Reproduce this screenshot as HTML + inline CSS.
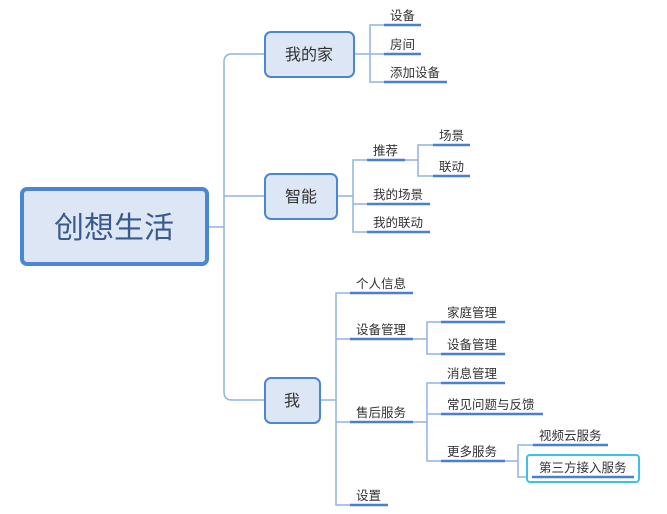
<!DOCTYPE html>
<html><head><meta charset="utf-8"><style>
html,body{margin:0;padding:0;background:#fff;width:667px;height:514px;overflow:hidden}
text{font-family:"Liberation Sans","Noto Sans CJK SC",sans-serif;fill:#333}
</style></head><body>
<svg width="667" height="514" viewBox="0 0 667 514" xmlns="http://www.w3.org/2000/svg">
<g fill="none" stroke="#8fb3e3" stroke-width="1.5">
<!-- trunk -->
<path d="M209 227 H224"/>
<path d="M264 54 H232 Q224 54 224 62 V392 Q224 400 232 400 H264"/>
<path d="M224 196 Q224 196 232 196 H264"/>
<!-- 我的家 -->
<path d="M355 54 H370"/><path d="M384 25 H370 V82 H384"/><path d="M370 54 H384"/>
<!-- 智能 -->
<path d="M338 196 H353"/><path d="M367 160 H353 V232 H367"/><path d="M353 204 H367"/>
<path d="M405 160 H418"/><path d="M433 145 H418 V176 H433"/>
<!-- 我 -->
<path d="M320 400 H336"/><path d="M350 293 H336 V505 H350"/><path d="M336 339 H350"/><path d="M336 422 H350"/>
<path d="M413 339 H427"/><path d="M441 322 H427 V354 H441"/>
<path d="M413 422 H427"/><path d="M441 383 H427 V461 H441"/><path d="M427 414 H441"/>
<path d="M505 461 H518"/><path d="M533 445 H518 V477 H533"/>
</g>
<!-- boxes -->
<rect x="22" y="189" width="185" height="75" rx="5" fill="#dce6f4" stroke="#4a86d4" stroke-width="4"/>
<text x="114" y="238" font-size="30" text-anchor="middle" style="fill:#3a5a8c">创想生活</text>
<rect x="265" y="32" width="89" height="45" rx="6" fill="#dce6f4" stroke="#4a86d4" stroke-width="2"/>
<text x="309" y="60" font-size="16" text-anchor="middle">我的家</text>
<rect x="265" y="174" width="72" height="45" rx="6" fill="#dce6f4" stroke="#4a86d4" stroke-width="2"/>
<text x="301" y="202" font-size="16" text-anchor="middle">智能</text>
<rect x="265" y="378" width="55" height="45" rx="6" fill="#dce6f4" stroke="#4a86d4" stroke-width="2"/>
<text x="292" y="406" font-size="16" text-anchor="middle">我</text>
<rect x="527" y="455" width="112" height="27" rx="3" fill="#fff" stroke="#3cc0ec" stroke-width="2"/>
<!-- underlines -->
<g stroke="#4a80d0" stroke-width="2.5">
<path d="M384 25 H421"/><path d="M384 54 H421"/><path d="M384 82 H447"/>
<path d="M367 160 H405"/><path d="M367 204 H430"/><path d="M367 232 H430"/>
<path d="M433 145 H470"/><path d="M433 176 H470"/>
<path d="M350 293 H413"/><path d="M350 339 H413"/><path d="M350 422 H413"/><path d="M350 505 H388"/>
<path d="M441 322 H505"/><path d="M441 354 H505"/>
<path d="M441 383 H505"/><path d="M441 414 H543"/><path d="M441 461 H505"/>
<path d="M533 445 H608"/><path d="M532 477 H634"/>
</g>
<g font-size="12.5">
<text x="390" y="20">设备</text><text x="390" y="49">房间</text><text x="390" y="77">添加设备</text>
<text x="373" y="155">推荐</text><text x="373" y="199">我的场景</text><text x="373" y="227">我的联动</text>
<text x="439" y="140">场景</text><text x="439" y="171">联动</text>
<text x="356" y="288">个人信息</text><text x="356" y="334">设备管理</text><text x="356" y="417">售后服务</text><text x="356" y="500">设置</text>
<text x="447" y="317">家庭管理</text><text x="447" y="349">设备管理</text>
<text x="447" y="378">消息管理</text><text x="447" y="409">常见问题与反馈</text><text x="447" y="456">更多服务</text>
<text x="539" y="440">视频云服务</text><text x="539" y="472">第三方接入服务</text>
</g>
</svg>
</body></html>
